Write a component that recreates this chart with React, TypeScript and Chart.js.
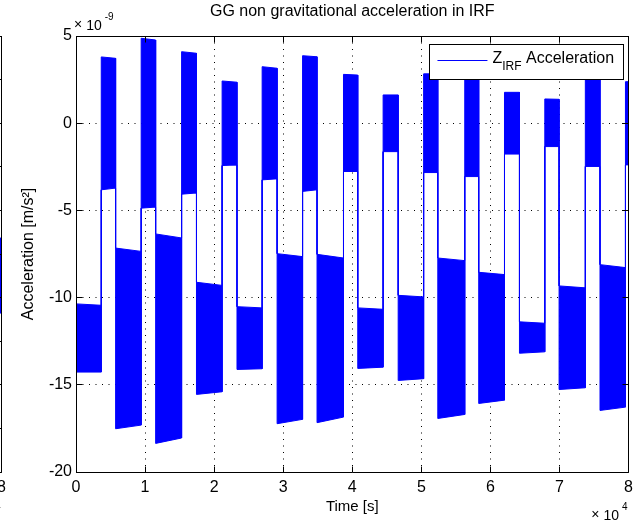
import React, { useEffect, useRef } from 'react';
import { Chart, registerables } from 'chart.js';

Chart.register(...registerables);

const FONT = '"Liberation Sans", Arial, Helvetica, sans-serif';

// ---------------- main panel data ----------------
// time [s] at which each block of the Z_IRF signal starts / ends
const segmentBounds = [
  0, 3656, 5737, 9436, 11532, 15289, 17442, 21156, 23309, 26951, 29118, 32803,
  34899, 38728, 40795, 44465, 46647, 50332, 52384, 56286, 58309, 62038, 64205,
  67876, 69942, 73743, 75867, 79552, 80000,
];
// envelope of the oscillating signal in each block, units of 1e-9 m/s^2
const upperStart = [
  -10.36, 3.8, -7.16, 4.87, -6.35, 4.1, -9.12, 2.42, -10.52, 3.24, -7.48, 3.87,
  -7.52, 2.8, -10.59, 1.62, -9.87, 2.83, -7.73, 3.06, -8.55, 1.77, -11.39, 1.39,
  -9.33, 2.48, -8.11, 2.38,
];
const upperEnd = [
  -10.44, 3.72, -7.35, 4.77, -6.58, 4.01, -9.3, 2.35, -10.59, 3.15, -7.65, 3.81,
  -7.73, 2.76, -10.67, 1.62, -9.96, 2.83, -7.88, 3.06, -8.68, 1.77, -11.47, 1.37,
  -9.44, 2.48, -8.28, 2.38,
];
const lowerStart = [
  -14.27, -3.82, -17.52, -4.87, -18.36, -4.07, -15.55, -2.43, -14.12, -3.25,
  -17.23, -3.91, -17.17, -2.77, -14.06, -1.63, -14.75, -2.83, -16.93, -3.06,
  -16.07, -1.77, -13.19, -1.34, -15.27, -2.48, -16.47, -2.39,
];
const lowerEnd = [
  -14.27, -3.72, -17.31, -4.81, -18.05, -4.0, -15.4, -2.39, -14.08, -3.19,
  -16.98, -3.82, -16.85, -2.77, -13.99, -1.63, -14.65, -2.83, -16.7, -3.06,
  -15.88, -1.77, -13.11, -1.34, -15.17, -2.48, -16.28, -2.39,
];

const xMin = 0;
const xMax = 80000;
const xStep = 10000;
const xExponent = '4';
const yMin = -20;
const yMax = 5;
const yStep = 5;
const yExponent = '-9';

const titleText = 'GG non gravitational acceleration in IRF';
const xLabel = 'Time [s]';
const yLabel = 'Acceleration [m/s²]';
const legendMain = 'Z';
const legendSub = 'IRF';
const legendRest = ' Acceleration';

// ---------------- neighbouring panel (only its right edge is in view) ----------------
const sideBounds = [79560, 80000];
const sideUpperStart = [0.73];
const sideUpperEnd = [0.73];
const sideLowerStart = [-2.71];
const sideLowerEnd = [-2.71];
const sideYMin = -10;
const sideYMax = 10;
const sideYStep = 2;

type Pt = { x: number; y: number };

function bandOutline(b: number[], uS: number[], uE: number[], lS: number[], lE: number[]): Pt[] {
  const top: Pt[] = [];
  const bottom: Pt[] = [];
  for (let i = 0; i < uS.length; i++) {
    top.push({ x: b[i], y: uS[i] }, { x: b[i + 1], y: uE[i] });
    bottom.push({ x: b[i], y: lS[i] }, { x: b[i + 1], y: lE[i] });
  }
  return top.concat(bottom.reverse());
}

const al = (p: number) => Math.round(p - 0.5) + 0.5;

// draws "× 10^exp" starting at x with the given baseline; returns nothing
function drawExponent(ctx: any, x: number, baseline: number, exp: string) {
  ctx.font = `14px ${FONT}`;
  ctx.fillText('×', x, baseline - 1);
  const wx = ctx.measureText('×').width;
  const x10 = x + wx + 4;
  ctx.fillText('10', x10, baseline);
  const w10 = ctx.measureText('10').width;
  ctx.font = `10px ${FONT}`;
  ctx.fillText(exp, x10 + w10 + 3, baseline - 10);
}

function exponentWidth(ctx: any, exp: string) {
  ctx.font = `14px ${FONT}`;
  const w = ctx.measureText('×').width + 4 + ctx.measureText('10').width + 3;
  ctx.font = `10px ${FONT}`;
  return w + ctx.measureText(exp).width;
}

const matlabDecor = {
  id: 'matlabDecor',
  afterDraw(chart: any, _args: any, o: any) {
    const { ctx, chartArea: a } = chart;
    const xs = chart.scales.x;
    const ys = chart.scales.y;
    const L = al(a.left);
    const R = al(a.right);
    const T = al(a.top);
    const B = al(a.bottom);
    ctx.save();
    ctx.setLineDash([]);
    ctx.strokeStyle = '#000';
    ctx.lineWidth = 1;
    ctx.beginPath();
    ctx.rect(L, T, R - L, B - T);
    const tl = 6;
    for (const t of xs.ticks) {
      const px = al(xs.getPixelForValue(t.value));
      ctx.moveTo(px, B);
      ctx.lineTo(px, B - tl);
      ctx.moveTo(px, T);
      ctx.lineTo(px, T + tl);
    }
    for (const t of ys.ticks) {
      const py = al(ys.getPixelForValue(t.value));
      ctx.moveTo(L, py);
      ctx.lineTo(L + tl, py);
      ctx.moveTo(R, py);
      ctx.lineTo(R - tl, py);
    }
    ctx.stroke();

    ctx.fillStyle = '#000';
    // title
    if (o.title) {
      ctx.font = `16px ${FONT}`;
      ctx.textAlign = 'center';
      ctx.textBaseline = 'alphabetic';
      ctx.fillText(o.title, (a.left + a.right) / 2, a.top - 20);
    }
    ctx.textAlign = 'left';
    ctx.textBaseline = 'alphabetic';
    // y exponent (top-left)
    if (o.yExp) {
      drawExponent(ctx, a.left - 2, a.top - 6, o.yExp);
    }
    // x exponent (bottom-right)
    if (o.xExp) {
      const w = exponentWidth(ctx, o.xExp);
      drawExponent(ctx, a.right - 1 - w, a.bottom + 48, o.xExp);
    }
    // legend
    if (o.legend) {
      const lg = o.legend;
      ctx.font = `16px ${FONT}`;
      const wMain = ctx.measureText(lg.main).width;
      const wRest = ctx.measureText(lg.rest).width;
      ctx.font = `12px ${FONT}`;
      const wSub = ctx.measureText(lg.sub).width;
      const padL = 8;
      const lineLen = 50;
      const gap = 5;
      const padR = 9;
      const w = padL + lineLen + gap + wMain + wSub + wRest + padR;
      const h = 35;
      const right = a.right - 5.5;
      const top = a.top + 8;
      const left = right - w;
      ctx.fillStyle = '#fff';
      ctx.fillRect(left, top, w, h);
      ctx.strokeStyle = '#000';
      ctx.strokeRect(al(left), al(top), Math.round(w), h);
      ctx.strokeStyle = lg.color;
      ctx.beginPath();
      const ly = al(top + 16.5);
      ctx.moveTo(left + padL, ly);
      ctx.lineTo(left + padL + lineLen, ly);
      ctx.stroke();
      ctx.fillStyle = '#000';
      let tx = left + padL + lineLen + gap;
      ctx.font = `16px ${FONT}`;
      ctx.fillText(lg.main, tx, top + 19);
      tx += wMain;
      ctx.font = `12px ${FONT}`;
      ctx.fillText(lg.sub, tx, top + 26);
      tx += wSub;
      ctx.font = `16px ${FONT}`;
      ctx.fillText(lg.rest, tx, top + 19);
    }
    ctx.restore();
  },
};

type PanelCfg = {
  bounds: number[];
  uS: number[];
  uE: number[];
  lS: number[];
  lE: number[];
  yMin: number;
  yMax: number;
  yStep: number;
  decor: any;
};

const mainPanel: PanelCfg = {
  bounds: segmentBounds,
  uS: upperStart,
  uE: upperEnd,
  lS: lowerStart,
  lE: lowerEnd,
  yMin,
  yMax,
  yStep,
  decor: {
    title: titleText,
    xExp: xExponent,
    yExp: yExponent,
    legend: { main: legendMain, sub: legendSub, rest: legendRest, color: '#0000ff' },
  },
};

const sidePanel: PanelCfg = {
  bounds: sideBounds,
  uS: sideUpperStart,
  uE: sideUpperEnd,
  lS: sideLowerStart,
  lE: sideLowerEnd,
  yMin: sideYMin,
  yMax: sideYMax,
  yStep: sideYStep,
  decor: { title: '', xExp: xExponent, yExp: '', legend: null },
};

function buildConfig(p: PanelCfg): any {
  const tickFont = { family: FONT, size: 16 };
  return {
    type: 'line',
    data: {
      datasets: [
        {
          label: legendMain + legendSub + legendRest,
          data: bandOutline(p.bounds, p.uS, p.uE, p.lS, p.lE),
          borderColor: '#0000ff',
          backgroundColor: '#0000ff',
          borderWidth: 1,
          pointRadius: 0,
          pointHoverRadius: 0,
          fill: 'shape',
          tension: 0,
        },
      ],
    },
    options: {
      responsive: false,
      animation: false,
      events: [],
      layout: { padding: { left: 0, top: 36, right: 10, bottom: 0 } },
      plugins: {
        legend: { display: false },
        title: { display: false },
        tooltip: { enabled: false },
        matlabDecor: p.decor,
      },
      scales: {
        x: {
          type: 'linear',
          min: xMin,
          max: xMax,
          afterFit: (s: any) => {
            s.height = 49;
          },
          ticks: {
            stepSize: xStep,
            autoSkip: false,
            maxRotation: 0,
            minRotation: 0,
            padding: 6,
            color: '#000',
            font: tickFont,
            callback: (v: number) => String(v / xStep),
          },
          grid: { color: '#000', lineWidth: 1, drawTicks: false },
          border: { display: false, dash: [1, 5.5] },
          title: {
            display: true,
            text: xLabel,
            color: '#000',
            font: { family: FONT, size: 15 },
            padding: { top: 0, bottom: 5.5 },
          },
        },
        y: {
          type: 'linear',
          min: p.yMin,
          max: p.yMax,
          afterFit: (s: any) => {
            s.width = 76;
          },
          ticks: {
            stepSize: p.yStep,
            padding: 4,
            color: '#000',
            font: tickFont,
          },
          grid: { color: '#000', lineWidth: 1, drawTicks: false },
          border: { display: false, dash: [1, 5.5] },
          title: {
            display: true,
            text: yLabel,
            color: '#000',
            font: { family: FONT, size: 16 },
            padding: { top: 19.4, bottom: 0 },
          },
        },
      },
    },
    plugins: [matlabDecor],
  };
}

function Panel({ cfg, left }: { cfg: PanelCfg; left: number }) {
  const ref = useRef<HTMLCanvasElement>(null);
  useEffect(() => {
    const chart = new Chart(ref.current as HTMLCanvasElement, buildConfig(cfg));
    return () => chart.destroy();
  }, [cfg]);
  return (
    <canvas
      ref={ref}
      width={639}
      height={521}
      style={{ position: 'absolute', left, top: 0, width: 639, height: 521 }}
    />
  );
}

export default function App() {
  return (
    <div
      style={{
        position: 'absolute',
        left: 0,
        top: 0,
        width: 639,
        height: 521,
        overflow: 'hidden',
        background: '#fff',
      }}
    >
      <Panel cfg={sidePanel} left={-627} />
      <Panel cfg={mainPanel} left={0} />
    </div>
  );
}
